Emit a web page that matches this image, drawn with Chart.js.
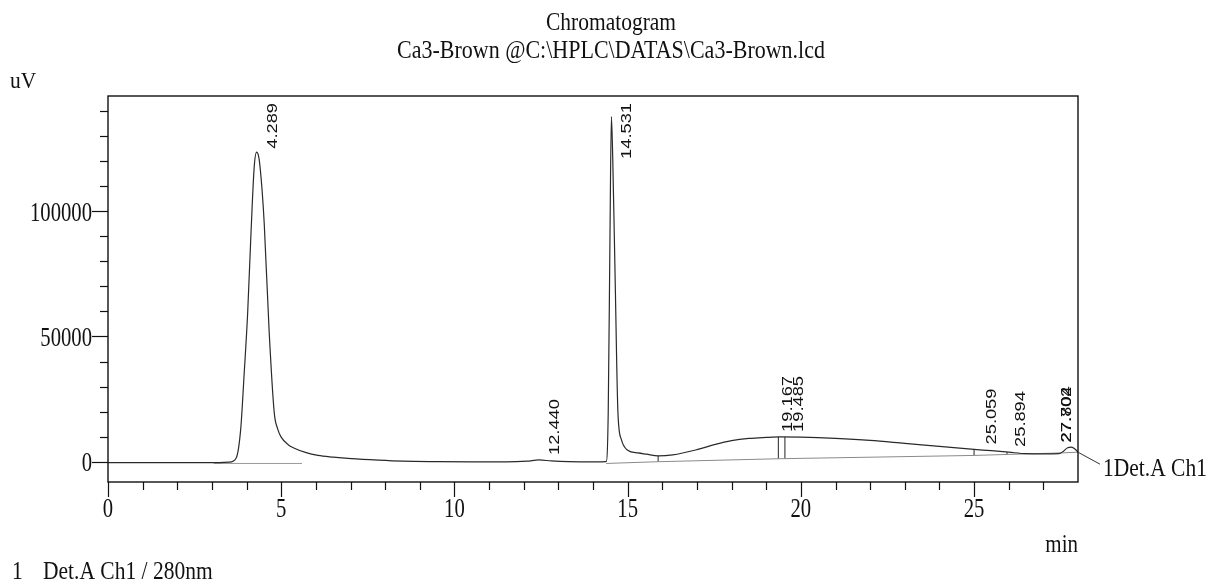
<!DOCTYPE html>
<html>
<head>
<meta charset="utf-8">
<title>Chromatogram</title>
<script src="https://cdn.jsdelivr.net/npm/chart.js@4.4.1/dist/chart.umd.min.js"></script>
<style>
  html, body { margin: 0; padding: 0; background: #fff; }
  #wrap { width: 1208px; height: 584px; }
</style>
</head>
<body>
<div id="wrap"><canvas id="chromChart" width="1208" height="584"></canvas></div>
<script>
// Detector trace: retention time (min) and signal (uV)
const timeMin = [0, 1, 2, 3, 3.5, 3.7, 3.83, 3.93, 4.03, 4.13, 4.22, 4.289, 4.36, 4.45, 4.51, 4.65, 4.8, 4.9, 4.99,
  5.2, 5.38, 5.7, 6.06, 6.5, 7.02, 7.8, 8.5, 9.5, 10.5, 11.5, 12.1, 12.44, 12.8, 13.3, 14.0, 14.38, 14.44, 14.49,
  14.531, 14.57, 14.64, 14.72, 14.82, 15.0, 15.3, 15.54, 15.88, 16.3, 17, 17.5, 18, 18.5, 19, 19.4, 20, 21, 22, 23,
  24, 25, 25.5, 26, 26.5, 27, 27.45, 27.58, 27.702, 27.804, 27.92, 28];
const signalUV = [-400, -400, -400, -400, -200, 1500, 12900, 35000, 59000, 92000, 117600, 123600, 121000, 108000,
  95000, 52500, 19400, 13000, 10000, 6800, 5400, 3700, 2500, 1800, 1200, 600, 200, 0, -100, -100, 200, 700, 300,
  0, -100, 0, 20000, 90000, 137800, 121000, 72500, 19500, 8800, 4600, 3500, 3000, 2300, 2700, 4800, 6800, 8400,
  9300, 9700, 9900, 9800, 9300, 8500, 7300, 6100, 4900, 4400, 3800, 3200, 3100, 3200, 4200, 5600, 5800, 5000, 3800];

// Integration baselines
const base1Time = [3.05, 5.6];
const base1UV = [-700, -700];
const base2Time = [14.38, 15.88, 19.4, 25.0, 25.95, 27.5, 28];
const base2UV = [-700, 0, 1200, 2500, 2900, 3500, 3800];

// Peak boundary drop lines
const dropTime = [15.88, 19.35, 19.54, 25.0, 25.95];
const dropTopUV = [2300, 9900, 9900, 4900, 3800];
const dropBottomUV = [0, 1200, 1200, 2500, 2900];

// Peak retention time labels
const peakTime = [4.289, 12.440, 14.531, 19.167, 19.485, 25.059, 25.894, 27.702, 27.804];
const peakLabel = ['4.289', '12.440', '14.531', '19.167', '19.485', '25.059', '25.894', '27.702', '27.804'];
const peakUV = [123600, 700, 137800, 9900, 9900, 4900, 3900, 5600, 5800];

const xLabelTicks = [0, 5, 10, 15, 20, 25];
const yLabelTicks = [0, 50000, 100000];

const SERIF = "'Liberation Serif', 'Times New Roman', serif";
const SANS = "'Liberation Sans', Arial, sans-serif";

function toPoints(xs, ys) {
  return xs.map((x, i) => ({ x: x, y: ys[i] }));
}

// text drawn slightly taller than wide, like the instrument printout
function tallText(ctx, txt, x, y, size, align, sy, family) {
  ctx.save();
  ctx.font = size + 'px ' + (family || SERIF);
  ctx.textAlign = align;
  ctx.textBaseline = 'alphabetic';
  ctx.fillStyle = '#111';
  ctx.translate(x, y);
  ctx.scale(1, sy);
  ctx.fillText(txt, 0, 0);
  ctx.restore();
}

const datasets = [{
  data: toPoints(timeMin, signalUV),
  borderColor: '#2a2a2a',
  borderWidth: 1.2,
  pointRadius: 0,
  cubicInterpolationMode: 'monotone'
}, {
  data: toPoints(base1Time, base1UV),
  borderColor: '#9a9a9a',
  borderWidth: 1,
  pointRadius: 0
}, {
  data: toPoints(base2Time, base2UV),
  borderColor: '#8a8a8a',
  borderWidth: 1,
  pointRadius: 0
}];

dropTime.forEach((t, i) => {
  datasets.push({
    data: [{ x: t, y: dropBottomUV[i] }, { x: t, y: dropTopUV[i] }],
    borderColor: '#222',
    borderWidth: 1,
    pointRadius: 0
  });
});

const chromDecor = {
  id: 'chromDecor',
  afterDraw(chart) {
    const ctx = chart.ctx;
    const a = chart.chartArea;
    const xs = chart.scales.x;
    const ys = chart.scales.y;

    // frame
    ctx.save();
    ctx.strokeStyle = '#111';
    ctx.lineWidth = 1.4;
    ctx.strokeRect(a.left, a.top, a.right - a.left, a.bottom - a.top);

    // y tick marks every 10000, long ones at labelled values
    ctx.lineWidth = 1.2;
    for (let v = Math.ceil(ys.min / 10000) * 10000; v <= ys.max; v += 10000) {
      const py = Math.round(ys.getPixelForValue(v)) + 0.5;
      const len = v % 50000 === 0 ? 16 : 8;
      ctx.beginPath();
      ctx.moveTo(a.left - len, py);
      ctx.lineTo(a.left, py);
      ctx.stroke();
    }

    // x tick marks every minute
    for (let v = Math.ceil(xs.min); v < xs.max; v++) {
      const px = Math.round(xs.getPixelForValue(v)) + 0.5;
      const len = v % 5 === 0 ? 15 : 8;
      ctx.beginPath();
      ctx.moveTo(px, a.bottom);
      ctx.lineTo(px, a.bottom + len);
      ctx.stroke();
    }
    ctx.restore();

    // tick labels
    yLabelTicks.forEach(v => {
      tallText(ctx, String(v), a.left - 16, ys.getPixelForValue(v) + 9.5, 20.7, 'right', 1.28);
    });
    xLabelTicks.forEach(v => {
      tallText(ctx, String(v), xs.getPixelForValue(v), 517, 20.7, 'center', 1.28);
    });

    // peak labels, rotated
    ctx.save();
    ctx.fillStyle = '#111';
    ctx.font = '14.5px ' + SANS;
    peakTime.forEach((t, i) => {
      const sy = 1.26;
      const len = ctx.measureText(peakLabel[i]).width * sy;
      const cx = Math.min(xs.getPixelForValue(t) + 16, a.right - 11);
      let by = ys.getPixelForValue(peakUV[i]) - 5;
      if (by - len < a.top + 7) by = a.top + 7 + len;
      ctx.save();
      ctx.translate(cx, by);
      ctx.rotate(-Math.PI / 2);
      ctx.scale(sy, 1);
      ctx.textAlign = 'left';
      ctx.textBaseline = 'middle';
      ctx.fillText(peakLabel[i], 0, 0);
      ctx.restore();
    });
    ctx.restore();

    // channel leader
    const endX = xs.getPixelForValue(timeMin[timeMin.length - 1]);
    const endY = ys.getPixelForValue(signalUV[signalUV.length - 1]);
    ctx.save();
    ctx.strokeStyle = '#333';
    ctx.lineWidth = 1;
    ctx.beginPath();
    ctx.moveTo(endX, endY);
    ctx.lineTo(endX + 22, endY + 12);
    ctx.stroke();
    ctx.restore();
    tallText(ctx, '1Det.A Ch1', endX + 25, 476, 21.5, 'left', 1.15);

    // titles and axis units
    tallText(ctx, 'Chromatogram', 611, 29.5, 21.5, 'center', 1.15);
    tallText(ctx, 'Ca3-Brown @C:\\HPLC\\DATAS\\Ca3-Brown.lcd', 611, 58, 22, 'center', 1.15);
    tallText(ctx, 'uV', 10, 88, 21.5, 'left', 1.1);
    tallText(ctx, 'min', a.right, 552, 21, 'right', 1.2);
    tallText(ctx, '1', 12, 579, 21.5, 'left', 1.15);
    tallText(ctx, 'Det.A Ch1 / 280nm', 43, 579, 21.5, 'left', 1.15);
  }
};

new Chart(document.getElementById('chromChart'), {
  type: 'line',
  data: { datasets: datasets },
  options: {
    responsive: false,
    animation: false,
    layout: { padding: { left: 0, top: 96, right: 130, bottom: 0 } },
    plugins: {
      legend: { display: false },
      title: { display: false },
      tooltip: { enabled: false }
    },
    scales: {
      x: {
        type: 'linear',
        min: 0,
        max: 28,
        ticks: { stepSize: 1, display: false },
        grid: { display: false, drawTicks: false },
        border: { display: false },
        afterFit: s => { s.height = 102; }
      },
      y: {
        type: 'linear',
        min: -8100,
        max: 146000,
        ticks: { stepSize: 10000, display: false },
        grid: { display: false, drawTicks: false },
        border: { display: false },
        afterFit: s => { s.width = 108; }
      }
    }
  },
  plugins: [chromDecor]
});
</script>
</body>
</html>
